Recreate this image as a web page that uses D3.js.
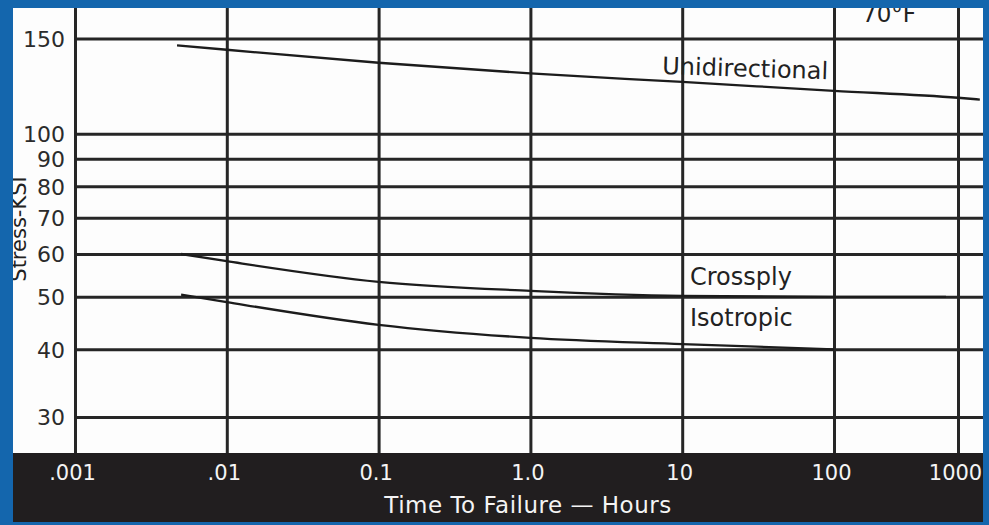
<!DOCTYPE html>
<html>
<head>
<meta charset="utf-8">
<script src="https://cdn.jsdelivr.net/npm/d3@7"></script>
<style>
  body { margin: 0; background: #fff; }
  svg text { font-family: "DejaVu Sans", sans-serif; }
</style>
</head>
<body>
<div id="chart"></div>
<script>
// Tick values / labels
var timeTicks = [0.001, 0.01, 0.1, 1, 10, 100, 1000],
    timeLabels = [".001", ".01", "0.1", "1.0", "10", "100", "1000"],
    stressTicks = [30, 40, 50, 60, 70, 80, 90, 100, 150];

// Curves (hours, ksi)
var uniTime = [0.0047, 0.01, 0.1, 1, 10, 100, 1000, 1500],
    uniStress = [145.7, 143.0, 135.3, 129.3, 124.7, 120.1, 116.6, 115.7];
var crossTime = [0.005, 0.01, 0.1, 1, 10, 100, 800],
    crossStress = [60, 58.2, 53.3, 51.3, 50.2, 50, 50];
var isoTime = [0.005, 0.01, 0.1, 1, 10, 100],
    isoStress = [50.5, 48.9, 44.4, 42.0, 40.9, 40];

var W = 989, H = 525;
var frame = {left: 13, top: 8, right: 983, bottom: 522};
var plotLeft = 75, bandTop = 453;
var ink = "#262626";

var svg = d3.select("#chart").append("svg")
  .attr("width", W)
  .attr("height", H);

// scales (the last decade on the printed chart is squeezed)
var x = d3.scaleLog().domain([0.001, 100, 1000]).range([plotLeft, 834, 958]);
var y = d3.scaleLog().domain([30, 150]).range([417, 38.5]);

//Paper + black band
svg.append("rect")
  .attr("x", 0).attr("y", 0).attr("width", W).attr("height", H)
  .attr("fill", "#fdfdfd");
svg.append("rect")
  .attr("x", frame.left).attr("y", bandTop)
  .attr("width", frame.right - frame.left).attr("height", frame.bottom - bandTop)
  .attr("fill", "#211e1f");

//Y axis + horizontal grid
var yAxis = svg.append("g")
  .attr("transform", "translate(" + plotLeft + ",0)")
  .call(d3.axisLeft(y).tickValues(stressTicks).tickFormat(d3.format("d"))
    .tickSize(-(frame.right - plotLeft)).tickPadding(10));
yAxis.select(".domain").remove();
yAxis.selectAll("line").attr("stroke", ink).attr("stroke-width", 3);
yAxis.selectAll("text")
  .attr("fill", "#2b2b2b")
  .style("font-size", "22px")
  .attr("dy", "0.36em");

//X axis + vertical grid
var xAxis = svg.append("g")
  .attr("transform", "translate(0," + bandTop + ")")
  .call(d3.axisBottom(x).tickValues(timeTicks).tickFormat(function(d, i){ return timeLabels[i]; })
    .tickSize(-(bandTop - frame.top)).tickPadding(12));
xAxis.select(".domain").remove();
xAxis.selectAll("line").attr("stroke", ink).attr("stroke-width", 3);
xAxis.selectAll("text")
  .attr("fill", "#f4f4f4")
  .attr("dx", -3)
  .style("font-size", "21px");

//Curves
var line = d3.line()
  .x(function(d){ return x(d[0]); })
  .y(function(d){ return y(d[1]); })
  .curve(d3.curveMonotoneX);

[[uniTime, uniStress], [crossTime, crossStress], [isoTime, isoStress]].forEach(function(s){
  svg.append("path")
    .datum(d3.zip(s[0], s[1]))
    .attr("fill", "none")
    .attr("stroke", "#1c1c1c")
    .attr("stroke-width", 2.3)
    .attr("d", line);
});

//Curve labels
function label(txt, px, py, size, rot){
  svg.append("text")
    .attr("transform", "translate(" + px + "," + py + ") rotate(" + (rot || 0) + ")")
    .attr("fill", "#222")
    .style("font-size", size + "px")
    .text(txt);
}
label("Unidirectional", 662, 74, 24, 1.8);
label("Crossply", 690, 285, 24);
label("Isotropic", 690, 326, 24);
label("70°F", 862, 22, 23);

//Axis titles
svg.append("text")
  .attr("x", 528).attr("y", 513)
  .attr("text-anchor", "middle")
  .attr("fill", "#f4f4f4")
  .style("font-size", "23px")
  .style("letter-spacing", "0.5px")
  .text("Time To Failure \u2014 Hours");

svg.append("text")
  .attr("transform", "translate(26,229) rotate(-90)")
  .attr("text-anchor", "middle")
  .attr("fill", "#222")
  .style("font-size", "21px")
  .text("Stress-KSI");

//Blue frame on top
svg.append("path")
  .attr("fill-rule", "evenodd")
  .attr("fill", "#1466ad")
  .attr("d", "M0,0H" + W + "V" + H + "H0Z M" + frame.left + "," + frame.top +
    "V" + frame.bottom + "H" + frame.right + "V" + frame.top + "Z");
</script>
</body>
</html>
